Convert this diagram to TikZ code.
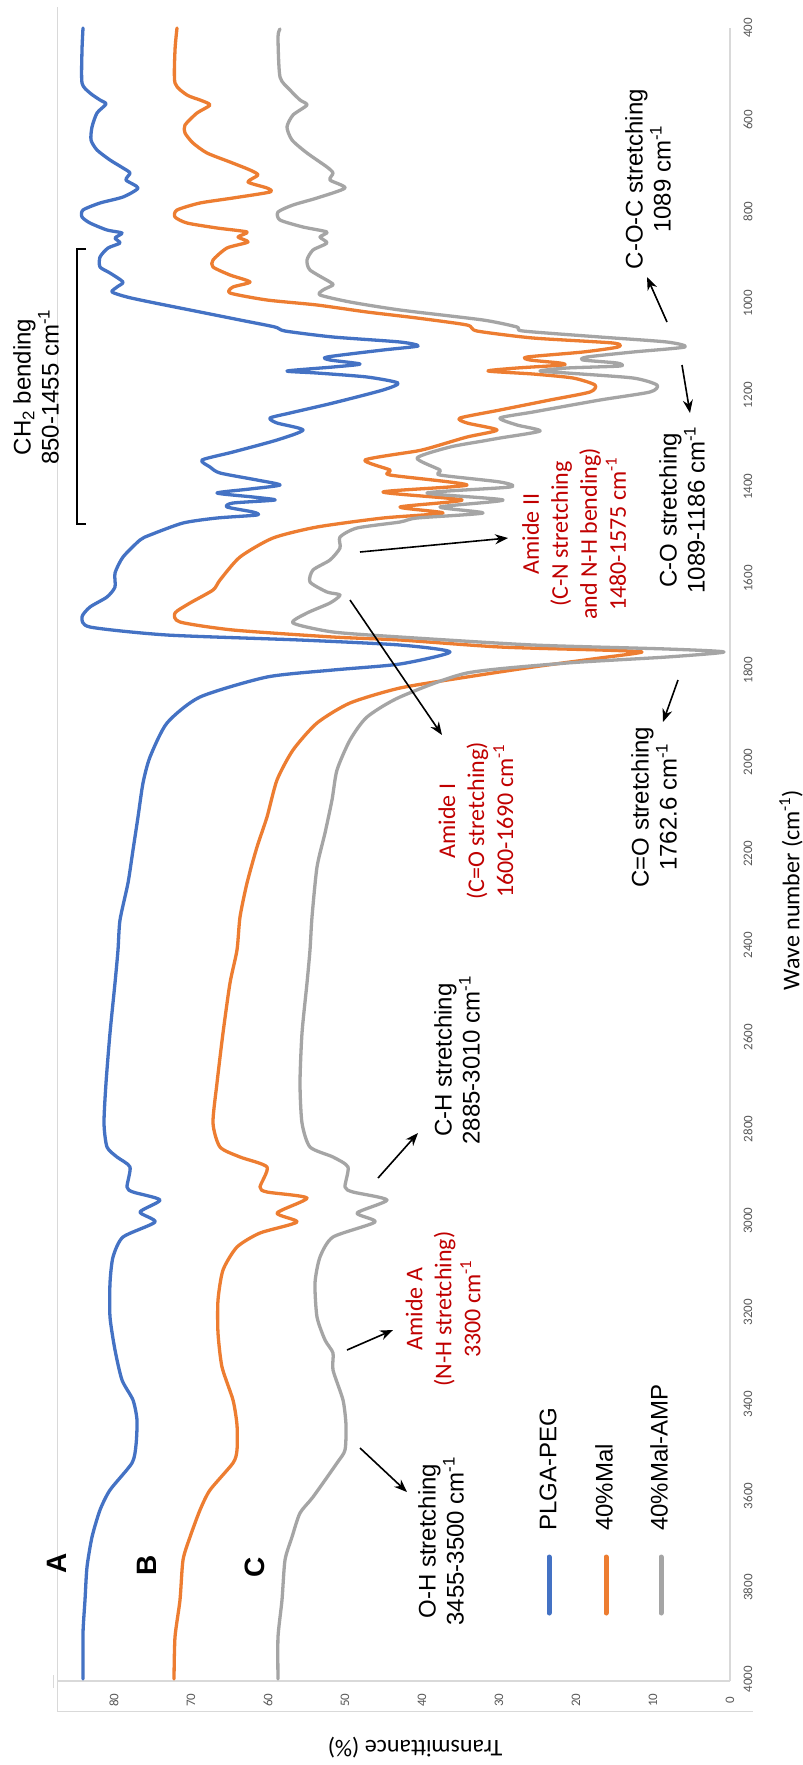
\documentclass[tikz,border=0pt]{standalone}
\usepackage{fontspec}
\setmainfont{Liberation Sans}
\newfontfamily\calib{Carlito}
\usetikzlibrary{arrows.meta}
\definecolor{cblue}{HTML}{4472C4}
\definecolor{corange}{HTML}{ED7D31}
\definecolor{cgray}{HTML}{A5A5A5}
\definecolor{cred}{HTML}{C00000}
\definecolor{axgray}{HTML}{D9D9D9}
\definecolor{tickgray}{HTML}{595959}
\begin{document}
\begin{tikzpicture}[x=1pt,y=-1pt,
  spec/.style={line width=3.3pt, line join=round, line cap=round},
  lbl/.style={rotate=90, align=center, inner sep=0pt, font=\fontsize{24}{28}\selectfont},
  amide/.style={rotate=90, align=center, inner sep=0pt, text=cred, font=\calib\fontsize{24}{29}\selectfont},
  arr/.style={-{Stealth[length=13pt,width=10pt]}, line width=1.6pt},
  ticklab/.style={rotate=90, inner sep=0pt, text=tickgray, font=\calib\fontsize{13}{15}\selectfont},
  axlab/.style={inner sep=0pt, text=black, font=\calib\fontsize{24}{28}\selectfont},
  letter/.style={rotate=90, inner sep=0pt, font=\bfseries\fontsize{28}{32}\selectfont},
  legline/.style={line width=5pt, line cap=round},
  legtext/.style={rotate=90, anchor=west, inner sep=0pt, font=\fontsize{24}{28}\selectfont}
]
\useasboundingbox (0,0) rectangle (803,1765);
\fill[white] (0,0) rectangle (803,1765);

% frame and axes
\draw[axgray, line width=1pt] (57,7) -- (57,1711) -- (753,1711);
\draw[axgray, line width=2.5pt] (57,1681) -- (730,1681);
\draw[axgray, line width=1pt] (53,1675) -- (53,1688);
\draw[axgray, line width=2pt] (730,28) -- (730,1681);

% tick labels
\foreach \w in {400,600,...,4000} \node[ticklab] (wn\w) at (748,{28+(\w-400)*0.4587}) {\w};
\foreach \t in {0,10,...,80} \node[ticklab] (tr\t) at ({730-7.7*\t},1700) {\t};

\node[axlab, rotate=90] (xlab) at (791,890) {Wave number (cm\textsuperscript{-1})};
\node[axlab, rotate=180] (ylab) at (415,1748) {Transmittance (\%)};

% spectra
\draw[spec, cblue] plot[smooth, tension=0.4] coordinates {
(83,28) (82,50) (82,83) (90,93) (100,100) (106,104) (97,113) (92,127) (91,140) (97,150) (110,160) (123,168) (130,173) (126,180) (138,188) (123,197) (100,203) (83,210) (82,217) (90,223) (107,230) (122,233) (115,238) (120,243) (108,248) (100,257) (100,267) (110,273) (123,282) (117,287) (112,292) (127,297) (150,302) (200,312) (240,320) (275,327) (285,331) (333,337) (400,342) (418,346) (383,350) (327,357) (330,360) (360,364) (333,367) (287,371) (317,373) (367,377) (398,383) (383,390) (333,403) (290,413) (270,418) (277,423) (303,430) (277,440) (233,452) (202,460) (210,467) (220,473) (257,480) (280,485) (250,489) (217,493) (253,497) (275,500) (233,503) (227,507) (253,512) (257,515) (217,518) (183,523) (150,535) (140,540) (123,557) (115,573) (115,587) (107,597) (90,607) (82,617) (90,627) (167,635) (300,640) (400,645) (450,652) (400,664) (333,670) (267,677) (200,697) (167,723) (150,757) (143,783) (138,817) (133,850) (128,883) (120,920) (118,950) (115,983) (110,1033) (106,1083) (104,1123) (107,1147) (117,1157) (130,1167) (127,1187) (133,1192) (160,1200) (140,1212) (155,1222) (123,1237) (113,1257) (110,1283) (110,1317) (115,1350) (122,1380) (133,1400) (137,1420) (136,1445) (132,1463) (110,1490) (100,1510) (92,1537) (87,1567) (85,1600) (83,1633) (83,1679)};

\draw[spec, corange] plot[smooth, tension=0.4] coordinates {
(177,28) (175,50) (175,83) (187,95) (200,100) (210,105) (197,113) (185,125) (185,133) (193,143) (207,153) (230,162) (250,170) (258,175) (248,182) (267,188) (270,192) (233,198) (200,203) (177,210) (175,217) (187,223) (217,228) (247,232) (238,237) (248,242) (227,248) (213,260) (213,267) (230,275) (250,282) (233,287) (230,293) (267,300) (317,305) (367,312) (417,318) (467,325) (477,331) (533,338) (613,343) (618,347) (583,352) (527,357) (530,360) (560,363) (563,365) (517,368) (488,371) (533,374) (573,378) (595,385) (590,392) (550,400) (500,410) (460,418) (467,423) (497,430) (467,437) (433,447) (417,451) (365,460) (390,470) (390,475) (467,485) (383,492) (462,500) (400,507) (443,513) (383,518) (317,527) (273,538) (240,557) (220,580) (213,590) (190,603) (175,613) (180,622) (233,630) (333,637) (400,640) (500,647) (600,650) (642,652) (600,658) (533,667) (467,677) (400,688) (350,703) (317,723) (293,750) (277,780) (267,817) (257,847) (247,883) (240,917) (237,950) (230,983) (223,1033) (217,1083) (213,1123) (220,1147) (240,1157) (267,1167) (260,1187) (267,1192) (307,1198) (277,1213) (297,1222) (260,1233) (237,1247) (223,1270) (218,1300) (218,1333) (222,1367) (233,1400) (237,1425) (237,1450) (233,1463) (210,1490) (200,1510) (190,1537) (183,1560) (180,1600) (175,1637) (174,1679)};

\draw[spec, cgray] plot[smooth, tension=0.4] coordinates {
(280,29) (278,37) (280,77) (290,90) (300,100) (307,105) (293,115) (287,127) (292,140) (307,153) (327,167) (333,173) (330,180) (345,188) (317,198) (293,205) (278,212) (280,220) (303,227) (327,232) (320,237) (327,243) (313,250) (307,260) (310,270) (330,282) (333,285) (323,290) (320,295) (350,302) (400,310) (483,320) (517,327) (523,331) (600,337) (667,342) (685,347) (633,352) (587,357) (583,360) (617,363) (620,366) (567,368) (540,371) (567,373) (633,378) (657,385) (650,392) (600,400) (533,412) (500,418) (517,425) (540,431) (500,438) (483,441) (450,447) (417,458) (440,470) (440,475) (500,482) (510,487) (427,493) (503,500) (440,507) (483,513) (417,518) (400,522) (357,528) (340,537) (340,548) (330,560) (313,570) (310,582) (327,592) (340,595) (330,603) (307,613) (293,623) (333,632) (400,637) (533,645) (667,649) (724,652) (667,657) (567,663) (467,673) (400,697) (367,717) (350,740) (337,770) (332,800) (325,833) (317,867) (312,917) (310,950) (307,983) (302,1033) (300,1083) (302,1123) (310,1147) (333,1157) (348,1167) (345,1187) (353,1192) (387,1200) (357,1213) (375,1222) (333,1237) (320,1257) (315,1283) (317,1317) (325,1340) (333,1353) (333,1370) (343,1400) (346,1425) (345,1450) (337,1463) (313,1497) (300,1513) (292,1537) (285,1560) (282,1600) (278,1637) (278,1679)};

% curve letters
\node[letter] (lA) at (57,1563) {A};
\node[letter] (lB) at (147,1565) {B};
\node[letter] (lC) at (255,1567) {C};

% legend
\coordinate (lg1a) at (549,1557); \coordinate (lg1b) at (549,1613);
\coordinate (lg2a) at (606,1557); \coordinate (lg2b) at (606,1613);
\coordinate (lg3a) at (661,1557); \coordinate (lg3b) at (661,1613);
\draw[legline, cblue] (lg1a) -- (lg1b);
\draw[legline, corange] (lg2a) -- (lg2b);
\draw[legline, cgray] (lg3a) -- (lg3b);
\node[legtext] (leg1) at (548,1531) {PLGA-PEG};
\node[legtext] (leg2) at (604,1531) {40\%Mal};
\node[legtext] (leg3) at (659,1531) {40\%Mal-AMP};

% CH2 bracket
\draw[line width=1.5pt] (86,249) -- (77,249) -- (77,524) -- (86,524);
\node[lbl] (ch2L) at (36,387) {CH\textsubscript{2} bending\\850-1455 cm\textsuperscript{-1}};

% annotations
\node[lbl] (cocL) at (648,179) {C-O-C stretching\\1089 cm\textsuperscript{-1}};
\node[lbl] (coL) at (682,510) {C-O stretching\\1089-1186 cm\textsuperscript{-1}};
\node[lbl] (coeqL) at (654,807) {C=O stretching\\1762.6 cm\textsuperscript{-1}};
\node[amide] (am2L) at (574,534) {Amide II\\(C-N stretching\\and N-H bending)\\1480-1575 cm\textsuperscript{-1}};
\node[amide] (am1L) at (476,821) {Amide I\\(C=O stretching)\\1600-1690 cm\textsuperscript{-1}};
\node[lbl] (chL) at (457,1060) {C-H stretching\\2885-3010 cm\textsuperscript{-1}};
\node[amide] (amAL) at (443,1309) {Amide A\\(N-H stretching)\\3300 cm\textsuperscript{-1}};
\node[lbl] (ohL) at (441,1541) {O-H stretching\\3455-3500 cm\textsuperscript{-1}};

% arrows
\coordinate (cocS) at (667,322); \coordinate (cocE) at (647,277);
\coordinate (coS) at (682,365); \coordinate (coE) at (690,413);
\coordinate (coeqS) at (678,680); \coordinate (coeqE) at (663,722);
\coordinate (am2S) at (360,552); \coordinate (am2E) at (508,538);
\coordinate (am1S) at (350,600); \coordinate (am1E) at (442,735);
\coordinate (chS) at (378,1178); \coordinate (chE) at (418,1133);
\coordinate (amAS) at (347,1350); \coordinate (amAE) at (393,1330);
\coordinate (ohS) at (360,1448); \coordinate (ohE) at (407,1492);
\draw[arr] (cocS) -- (cocE);
\draw[arr] (coS) -- (coE);
\draw[arr] (coeqS) -- (coeqE);
\draw[arr] (am2S) -- (am2E);
\draw[arr] (am1S) -- (am1E);
\draw[arr] (chS) -- (chE);
\draw[arr] (amAS) -- (amAE);
\draw[arr] (ohS) -- (ohE);
\end{tikzpicture}
\end{document}
